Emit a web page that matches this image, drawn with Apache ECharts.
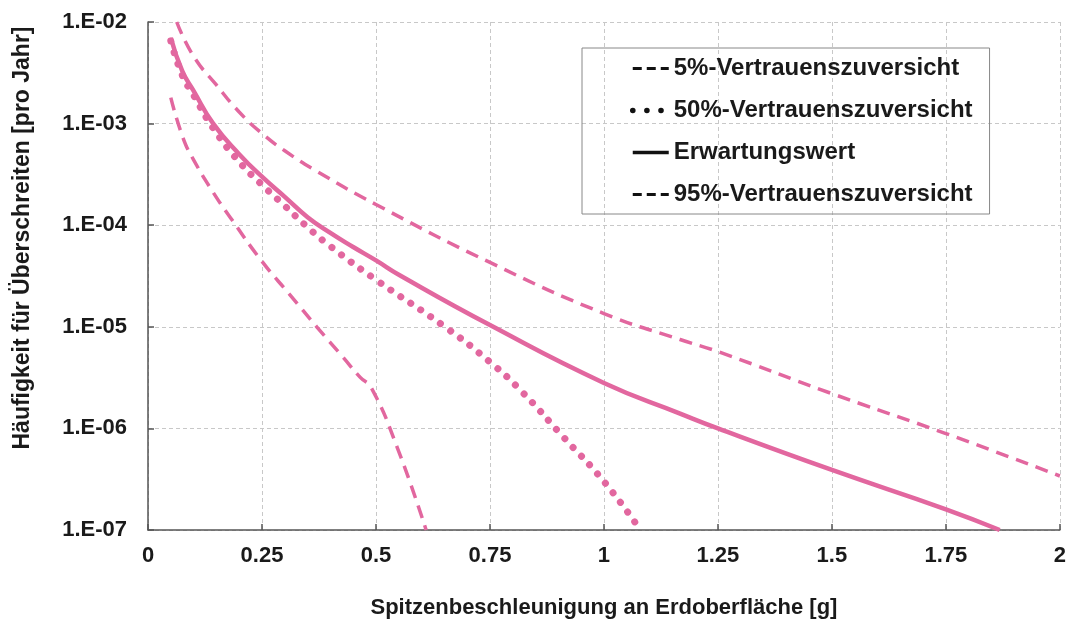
<!DOCTYPE html>
<html>
<head>
<meta charset="utf-8">
<script src="https://cdn.jsdelivr.net/npm/echarts@6/dist/echarts.min.js"></script>
<style>
  html, body { margin: 0; padding: 0; background: #ffffff; }
  #chart { width: 1069px; height: 627px; }
</style>
</head>
<body>
<div id="chart"></div>
<script>
// Peak ground acceleration [g] and annual exceedance frequency per curve
const accel5 = [0.05, 0.077, 0.1, 0.143, 0.18, 0.25, 0.31, 0.37, 0.428, 0.465, 0.49, 0.546, 0.61];
const freq5 = [1.8e-3, 7.2e-4, 4.4e-4, 2.1e-4, 1.2e-4, 4.4e-5, 2.1e-5, 1.0e-5, 5.0e-6, 3.2e-6, 2.5e-6, 6.6e-7, 1.0e-7];

const accel50 = [0.05, 0.075, 0.1, 0.143, 0.2, 0.25, 0.3, 0.345, 0.4, 0.5, 0.651, 0.75, 0.82, 0.908, 1.0, 1.08];
const freq50 = [6.5e-3, 3.0e-3, 1.9e-3, 9.0e-4, 4.2e-4, 2.5e-4, 1.55e-4, 1.0e-4, 6.2e-5, 2.9e-5, 1.0e-5, 4.5e-6, 2.3e-6, 8.5e-7, 3.0e-7, 1.0e-7];

const accelMean = [0.05, 0.075, 0.1, 0.143, 0.2, 0.25, 0.3, 0.35, 0.4, 0.45, 0.5, 0.553, 0.75, 1.0, 1.167, 1.25, 1.5, 1.75, 1.868];
const freqMean = [7.0e-3, 3.3e-3, 2.1e-3, 1.0e-3, 5.0e-4, 3.0e-4, 1.9e-4, 1.2e-4, 8.4e-5, 6.1e-5, 4.5e-5, 3.2e-5, 1.04e-5, 2.8e-6, 1.4e-6, 1.0e-6, 3.9e-7, 1.6e-7, 1.0e-7];

const accel95 = [0.063, 0.1, 0.15, 0.2, 0.25, 0.3, 0.37, 0.5, 0.75, 1.0, 1.167, 1.25, 1.5, 1.75, 2.0];
const freq95 = [1.0e-2, 4.6e-3, 2.4e-3, 1.3e-3, 8.0e-4, 5.4e-4, 3.4e-4, 1.6e-4, 4.3e-5, 1.35e-5, 7.5e-6, 5.7e-6, 2.2e-6, 8.9e-7, 3.4e-7];

const seriesNames = [
  '5%-Vertrauenszuversicht',
  '50%-Vertrauenszuversicht',
  'Erwartungswert',
  '95%-Vertrauenszuversicht'
];

const xTitle = 'Spitzenbeschleunigung an Erdoberfläche [g]';
const yTitle = 'Häufigkeit für Überschreiten [pro Jahr]';

const PINK = '#e2679f';
const FONT = '"Liberation Sans", Arial, Helvetica, sans-serif';

function pairs(xs, ys) {
  return xs.map((x, i) => [x, ys[i]]);
}

function expLabel(v) {
  const e = Math.round(Math.log10(v));
  return '1.E' + (e < 0 ? '-' : '+') + String(Math.abs(e)).padStart(2, '0');
}

const dashStyle = { color: PINK, width: 3.5, type: [13, 8] };
const dotStyle = { color: PINK, width: 7, type: [0.1, 12], cap: 'round' };
const solidStyle = { color: PINK, width: 4.5, type: 'solid' };

const chart = echarts.init(document.getElementById('chart'), null, { renderer: 'canvas' });

chart.setOption({
  backgroundColor: '#ffffff',
  animation: false,
  grid: { left: 148, right: 9, top: 22, bottom: 97, containLabel: false },
  legend: {
    orient: 'vertical',
    left: 582,
    top: 48,
    padding: [8, 17, 7, 48],
    borderColor: '#888888',
    borderWidth: 1,
    itemWidth: 36,
    itemHeight: 25,
    itemGap: 17,
    textStyle: { fontFamily: FONT, fontSize: 24, fontWeight: 'bold', color: '#1a1a1a', lineHeight: 25 },
    itemStyle: { opacity: 0 },
    data: [
      { name: seriesNames[0], lineStyle: { color: '#111', width: 3, type: [9, 5] } },
      { name: seriesNames[1], lineStyle: { color: '#111', width: 5.5, type: [0.1, 14], cap: 'round' } },
      { name: seriesNames[2], lineStyle: { color: '#111', width: 3.5, type: 'solid' } },
      { name: seriesNames[3], lineStyle: { color: '#111', width: 3, type: [9, 5] } }
    ]
  },
  xAxis: {
    type: 'value',
    min: 0,
    max: 2,
    interval: 0.25,
    name: xTitle,
    nameLocation: 'middle',
    nameGap: 67,
    nameTextStyle: { fontFamily: FONT, fontSize: 22, fontWeight: 'bold', color: '#1a1a1a' },
    axisLine: { show: true, lineStyle: { color: '#555555', width: 1.5 } },
    axisTick: { show: true, inside: true, length: 6, lineStyle: { color: '#555555', width: 1.5 } },
    axisLabel: { fontFamily: FONT, fontSize: 22, fontWeight: 'bold', color: '#1a1a1a', margin: 15 },
    splitLine: { show: true, lineStyle: { color: '#c8c8c8', width: 1, type: [4, 3] } }
  },
  yAxis: {
    type: 'log',
    logBase: 10,
    min: 1e-7,
    max: 1e-2,
    name: yTitle,
    nameLocation: 'middle',
    nameRotate: 90,
    nameGap: 114,
    nameTextStyle: { fontFamily: FONT, fontSize: 23, fontWeight: 'bold', color: '#1a1a1a', padding: [0, 0, 0, 76] },
    axisLine: { show: true, lineStyle: { color: '#555555', width: 1.5 } },
    axisTick: { show: true, inside: true, length: 6, lineStyle: { color: '#555555', width: 1.5 } },
    axisLabel: { fontFamily: FONT, fontSize: 22, fontWeight: 'bold', color: '#1a1a1a', margin: 21, formatter: expLabel },
    splitLine: { show: true, lineStyle: { color: '#c8c8c8', width: 1, type: [4, 3] } }
  },
  series: [
    { name: seriesNames[0], type: 'line', data: pairs(accel5, freq5), symbol: 'none', smooth: 0.5, lineStyle: dashStyle, itemStyle: { color: PINK } },
    { name: seriesNames[1], type: 'line', data: pairs(accel50, freq50), symbol: 'none', smooth: 0.5, lineStyle: dotStyle, itemStyle: { color: PINK } },
    { name: seriesNames[2], type: 'line', data: pairs(accelMean, freqMean), symbol: 'none', smooth: 0.5, lineStyle: solidStyle, itemStyle: { color: PINK } },
    { name: seriesNames[3], type: 'line', data: pairs(accel95, freq95), symbol: 'none', smooth: 0.5, lineStyle: dashStyle, itemStyle: { color: PINK } }
  ]
});
</script>
</body>
</html>
